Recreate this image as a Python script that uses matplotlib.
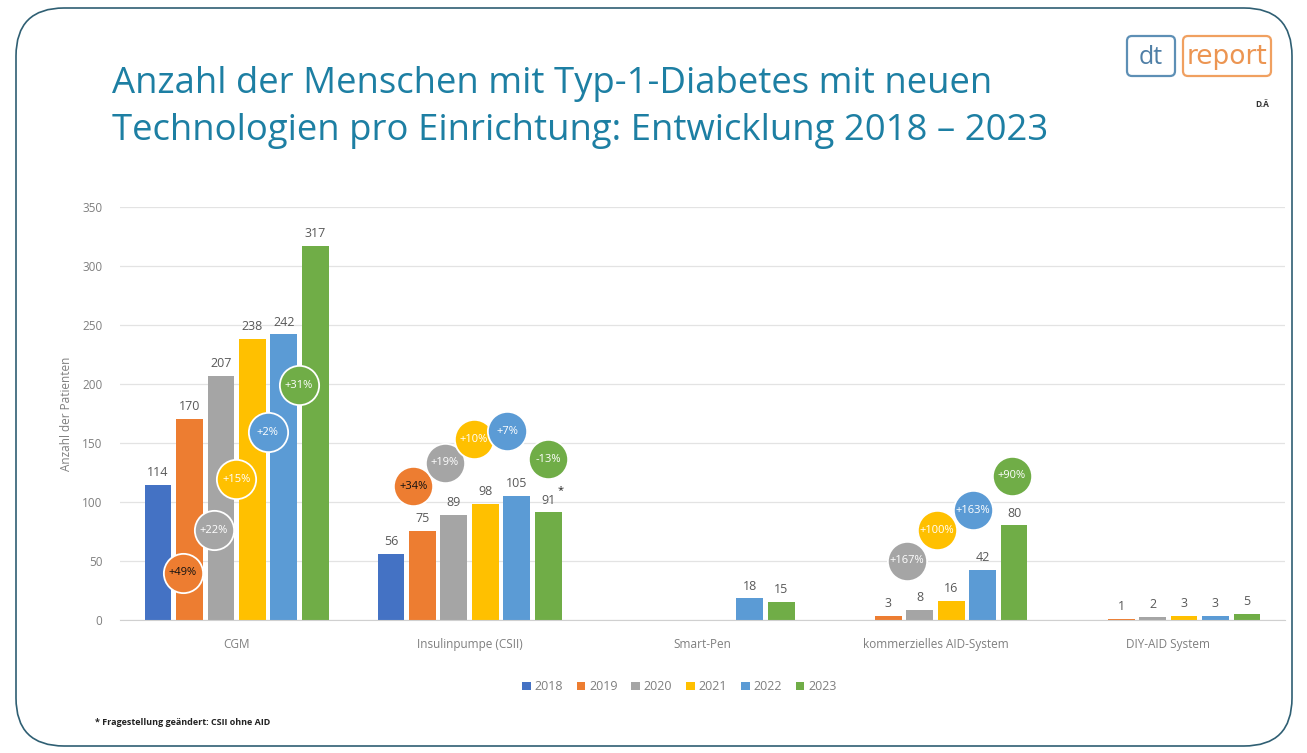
import numpy as np
import matplotlib
matplotlib.use("Agg")
import matplotlib.pyplot as plt
from matplotlib.patches import FancyBboxPatch

plt.rcParams['font.family'] = ['Open Sans', 'DejaVu Sans']

categories = ["CGM", "Insulinpumpe (CSII)", "Smart-Pen", "kommerzielles AID-System", "DIY-AID System"]
years = ["2018", "2019", "2020", "2021", "2022", "2023"]
colors = ["#4472C4", "#ED7D31", "#A5A5A5", "#FFC000", "#5B9BD5", "#70AD47"]

# values per year, one entry per category (nan = not asked)
v2018 = [114, 56, np.nan, np.nan, np.nan]
v2019 = [170, 75, np.nan, 3, 1]
v2020 = [207, 89, np.nan, 8, 2]
v2021 = [238, 98, np.nan, 16, 3]
v2022 = [242, 105, 18, 42, 3]
v2023 = [317, 91, 15, 80, 5]
values = [v2018, v2019, v2020, v2021, v2022, v2023]

# change badges: (category index, year index, label, height on y scale)
badges = [
    (0, 1, "+49%", 40), (0, 2, "+22%", 76), (0, 3, "+15%", 119), (0, 4, "+2%", 159), (0, 5, "+31%", 199),
    (1, 1, "+34%", 113), (1, 2, "+19%", 133), (1, 3, "+10%", 153), (1, 4, "+7%", 160), (1, 5, "-13%", 136),
    (3, 2, "+167%", 50), (3, 3, "+100%", 76), (3, 4, "+163%", 93), (3, 5, "+90%", 122),
]
badge_shift = [-0.03, -0.03, -0.07, -0.07, -0.07,
               -0.04, -0.04, -0.05, -0.04, 0.0,
               -0.055, -0.06, -0.04, -0.01]

fig = plt.figure(figsize=(13.07, 7.53), dpi=100)

# slide frame + logo in pixel coordinates
bg = fig.add_axes([0, 0, 1, 1])
bg.set_xlim(0, 1307)
bg.set_ylim(753, 0)
bg.axis("off")
bg.add_patch(FancyBboxPatch((16, 8), 1276, 738, boxstyle="round,pad=0,rounding_size=48",
                            fill=False, ec="#2f5f73", lw=1.2))
bg.add_patch(FancyBboxPatch((1127, 36), 48, 40, boxstyle="round,pad=0,rounding_size=5",
                            fill=False, ec="#5d8fb5", lw=1.6))
bg.add_patch(FancyBboxPatch((1183, 36), 88, 40, boxstyle="round,pad=0,rounding_size=5",
                            fill=False, ec="#f0a060", lw=1.6))
bg.text(1151, 57, "dt", color="#4f7fa6", fontsize=18, ha="center", va="center")
bg.text(1227, 57, "report", color="#ec9552", fontsize=19, ha="center", va="center", family="Liberation Sans Narrow")
bg.text(1262, 104, "D.Ä", color="#333333", fontsize=6, fontweight="bold", ha="center", va="center")

fig.text(0.086, 0.889, "Anzahl der Menschen mit Typ-1-Diabetes mit neuen", color="#1d7fa3",
         fontsize=26.3, va="center", ha="left")
fig.text(0.086, 0.826, "Technologien pro Einrichtung: Entwicklung 2018 \u2013 2023", color="#1d7fa3",
         fontsize=26.3, va="center", ha="left")
fig.text(0.073, 0.040, "* Fragestellung geändert: CSII ohne AID", fontsize=6.5, fontweight="bold",
         color="#222222", ha="left", va="center")

ax = fig.add_axes([0.092, 0.177, 0.891, 0.548])
x = np.arange(len(categories))
step = 0.135
width = 0.115
for i, (yr, col, vals) in enumerate(zip(years, colors, values)):
    pos = x + (i - 2.5) * step
    vals = np.array(vals, dtype=float)
    ax.bar(pos, np.nan_to_num(vals), width, color=col, label=yr, zorder=2)
    for p, v in zip(pos, vals):
        if not np.isnan(v):
            ax.text(p, v + 5, f"{int(v)}", ha="center", va="bottom", fontsize=9, color="#595959")

ax.text(x[1] + 2.5 * step + 0.055, 91 + 14, "*", fontsize=8, color="#222222", ha="center", va="bottom")

for (c, yi, lab, h), sh in zip(badges, badge_shift):
    bx = x[c] + (yi - 2.5) * step + sh
    ax.scatter([bx], [h], s=800, color=colors[yi], edgecolors="white", linewidths=1.3, zorder=3)
    tc = "#111111" if yi == 1 else "white"
    ax.text(bx, h, lab, ha="center", va="center", fontsize=8, color=tc, zorder=4)

ax.set_xlim(-0.5, len(categories) - 0.5)
ax.set_ylim(0, 350)
ax.set_yticks(range(0, 351, 50))
ax.set_xticks(x)
ax.set_xticklabels(categories)
ax.tick_params(axis="both", length=0, labelsize=8.5, colors="#7f7f7f")
ax.tick_params(axis="x", pad=13)
ax.tick_params(axis="y", pad=13)
ax.grid(axis="y", color="#e3e3e3", lw=0.9, zorder=0)
for s in ["top", "right", "left"]:
    ax.spines[s].set_visible(False)
ax.spines["bottom"].set_color("#d0d0d0")
ax.set_ylabel("Anzahl der Patienten", fontsize=8.5, color="#7f7f7f", labelpad=6)

ax.legend(loc="upper center", bbox_to_anchor=(0.48, -0.12), ncol=6, frameon=False,
          fontsize=9, labelcolor="#7f7f7f", handlelength=0.7, handleheight=0.7,
          handletextpad=0.3, columnspacing=1.1)

fig.savefig("out.png", dpi=100)
